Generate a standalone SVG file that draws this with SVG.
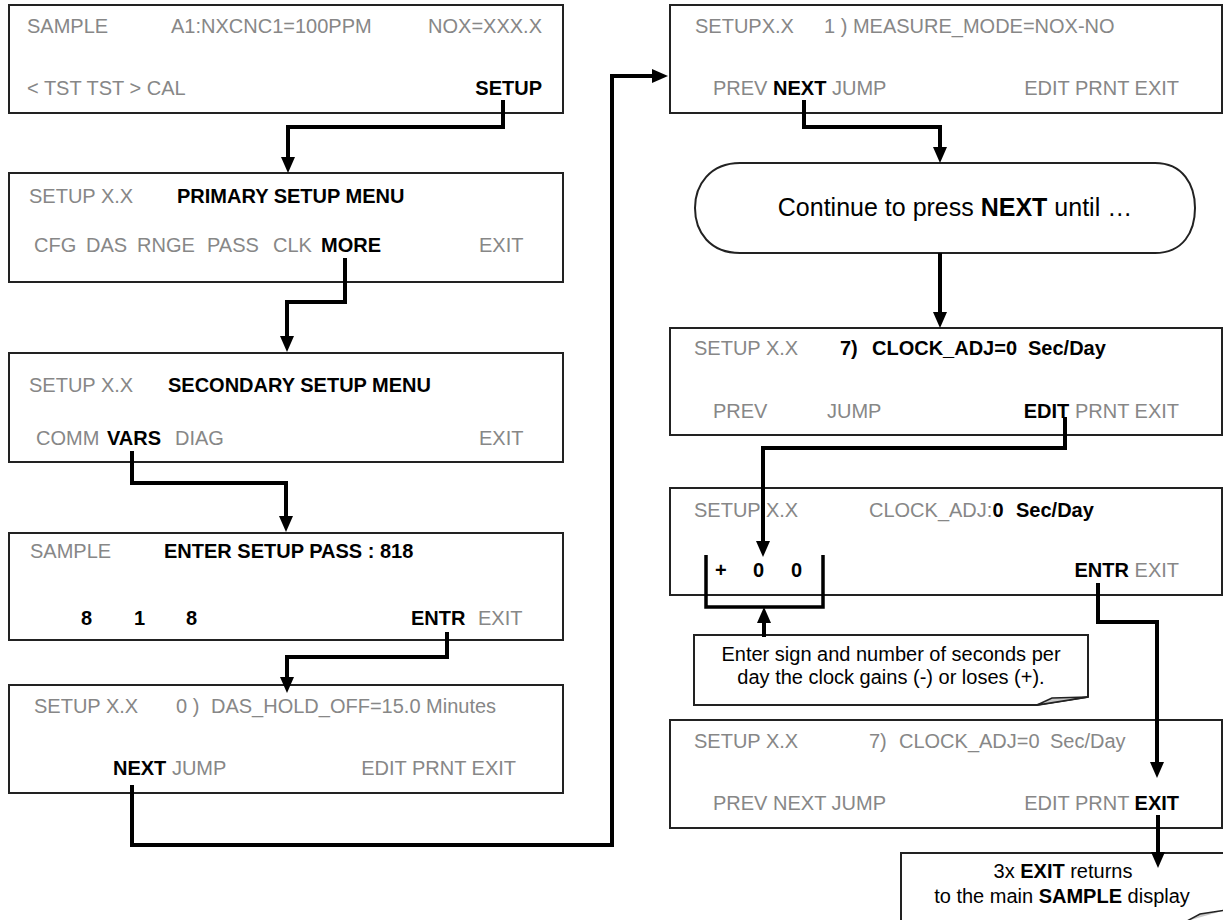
<svg xmlns="http://www.w3.org/2000/svg" width="1223" height="920" viewBox="0 0 1223 920">
<style>
.p{fill:#fff;stroke:#222;stroke-width:2}
text{font-family:"Liberation Sans",Arial,Helvetica,sans-serif;font-size:20px;fill:#000}
.g{fill:#878787}
.b{font-weight:bold;fill:#000}
.c{fill:none;stroke:#000;stroke-width:4;stroke-linejoin:miter;marker-end:url(#ah)}
.n{fill:#fff;stroke:#222;stroke-width:2}
</style>
<defs>
<marker id="ah" markerUnits="userSpaceOnUse" markerWidth="16" markerHeight="16" viewBox="0 0 16 16" refX="0" refY="8" orient="auto"><path d="M0,1 L16,8 L0,15 Z" fill="#000"/></marker>
</defs>
<rect width="1223" height="920" fill="#fff"/>

<g id="p1">
<rect class="p" x="9" y="5" width="554" height="108"/>
<text x="27" y="33" class="g">SAMPLE</text>
<text x="171" y="33" class="g">A1:NXCNC1=100PPM</text>
<text x="542" y="33" class="g" text-anchor="end">NOX=XXX.X</text>
<text x="27" y="95" class="g">&lt; TST  TST &gt; CAL</text>
<text x="542" y="95" class="b" text-anchor="end">SETUP</text>
</g>

<g id="p2">
<rect class="p" x="9" y="173" width="554" height="109"/>
<text x="29" y="203" class="g">SETUP X.X</text>
<text x="177" y="203" class="b">PRIMARY SETUP MENU</text>
<text y="252"><tspan x="34" class="g">CFG</tspan><tspan x="86" class="g">DAS</tspan><tspan x="137" class="g">RNGE</tspan><tspan x="207" class="g">PASS</tspan><tspan x="273" class="g">CLK</tspan><tspan x="321" class="b">MORE</tspan><tspan x="479" class="g">EXIT</tspan></text>
</g>

<g id="p3">
<rect class="p" x="9" y="353" width="554" height="109"/>
<text x="29" y="392" class="g">SETUP X.X</text>
<text x="168" y="392" class="b">SECONDARY SETUP MENU</text>
<text y="445"><tspan x="36" class="g">COMM</tspan><tspan x="107" class="b">VARS</tspan><tspan x="175" class="g">DIAG</tspan><tspan x="479" class="g">EXIT</tspan></text>
</g>

<g id="p4">
<rect class="p" x="9" y="533" width="554" height="107"/>
<text x="30" y="558" class="g">SAMPLE</text>
<text x="164" y="558" class="b">ENTER SETUP PASS : 818</text>
<text y="625" class="b"><tspan x="81">8</tspan><tspan x="134">1</tspan><tspan x="186">8</tspan><tspan x="411">ENTR</tspan></text>
<text x="478" y="625" class="g">EXIT</text>
</g>

<g id="p5">
<rect class="p" x="9" y="685" width="554" height="108"/>
<text x="34" y="713" class="g">SETUP X.X</text>
<text y="713" class="g"><tspan x="176">0 )</tspan><tspan x="211">DAS_HOLD_OFF=15.0 Minutes</tspan></text>
<text x="113" y="775"><tspan class="b">NEXT</tspan><tspan class="g"> JUMP</tspan></text>
<text x="516" y="775" class="g" text-anchor="end">EDIT PRNT EXIT</text>
</g>

<g id="r1">
<rect class="p" x="670" y="5" width="552" height="108"/>
<text x="695" y="33" class="g">SETUPX.X</text>
<text x="824" y="33" class="g">1 ) MEASURE_MODE=NOX-NO</text>
<text x="713" y="95"><tspan class="g">PREV </tspan><tspan class="b">NEXT</tspan><tspan class="g"> JUMP</tspan></text>
<text x="1179" y="95" class="g" text-anchor="end">EDIT PRNT EXIT</text>
</g>

<g id="continue">
<path class="n" d="M740,163 H1155 C1183,163 1195,185 1195,208 C1195,232 1183,253 1155,253 H740 C710,253 695,232 695,208 C695,185 710,163 740,163 Z"/>
<text x="955" y="216" text-anchor="middle" style="font-size:25px">Continue to press <tspan class="b">NEXT</tspan> until …</text>
</g>

<g id="r2">
<rect class="p" x="670" y="328" width="552" height="107"/>
<text x="694" y="355" class="g">SETUP X.X</text>
<text y="355" class="b"><tspan x="840">7)</tspan><tspan x="872">CLOCK_ADJ=0</tspan><tspan x="1028">Sec/Day</tspan></text>
<text y="418"><tspan x="713" class="g">PREV</tspan><tspan x="827" class="g">JUMP</tspan></text>
<text x="1179" y="418" text-anchor="end"><tspan class="b">EDIT</tspan><tspan class="g"> PRNT EXIT</tspan></text>
</g>

<g id="r3">
<rect class="p" x="670" y="488" width="552" height="107"/>
<text x="694" y="517" class="g">SETUP X.X</text>
<text x="869" y="517"><tspan class="g">CLOCK_ADJ:</tspan><tspan class="b">0  </tspan><tspan class="b" x="1016">Sec/Day</tspan></text>
<text y="577" class="b"><tspan x="715">+</tspan><tspan x="753">0</tspan><tspan x="791">0</tspan></text>
<text x="1179" y="577" text-anchor="end"><tspan class="b">ENTR</tspan><tspan class="g"> EXIT</tspan></text>
<path d="M706,555 V607 H823 V555" fill="none" stroke="#000" stroke-width="3.5"/>
</g>

<g id="note1">
<path class="n" d="M694,635 H1088 V697 L1037,705 H694 Z"/>
<path d="M1037,705 L1052,698 L1088,697 Z" fill="#c8c8c8" stroke="#222" stroke-width="1.5"/>
<text x="891" y="661" text-anchor="middle">Enter sign and number of seconds per</text>
<text x="891" y="684" text-anchor="middle">day the clock gains (-) or loses (+).</text>
</g>

<g id="r4">
<rect class="p" x="670" y="720" width="552" height="108"/>
<text x="694" y="748" class="g">SETUP X.X</text>
<text y="748" class="g"><tspan x="869">7)</tspan><tspan x="899">CLOCK_ADJ=0</tspan><tspan x="1050">Sec/Day</tspan></text>
<text x="713" y="810" class="g">PREV NEXT JUMP</text>
<text x="1179" y="810" text-anchor="end"><tspan class="g">EDIT PRNT </tspan><tspan class="b">EXIT</tspan></text>
</g>

<g id="note2">
<path class="n" d="M901,853 H1240 V940 H901 Z"/>
<path d="M1187,921 L1200,914 L1226,910" fill="#c8c8c8" stroke="#222" stroke-width="1.5"/>
<text x="1063" y="878" text-anchor="middle">3x <tspan class="b">EXIT</tspan> returns</text>
<text x="1062" y="903" text-anchor="middle">to the main <tspan class="b">SAMPLE</tspan> display</text>
</g>

<g id="connectors">
<path class="c" d="M503,100 V127 H288 V157"/>
<path class="c" d="M345,258 V302 H287 V336"/>
<path class="c" d="M132,451 V483 H286 V516"/>
<path class="c" d="M447,632 V657 H287 V677"/>
<path class="c" d="M132,785 V845 H612 V76 H652"/>
<path class="c" d="M804,100 V127 H940 V147"/>
<path class="c" d="M940,253 V312"/>
<path class="c" d="M1065,417 V448 H763 V541"/>
<path class="c" d="M764,637 V623"/>
<path class="c" d="M1098,583 V622 H1157 V762"/>
<path class="c" d="M1158,815 V852"/>
</g>
</svg>
